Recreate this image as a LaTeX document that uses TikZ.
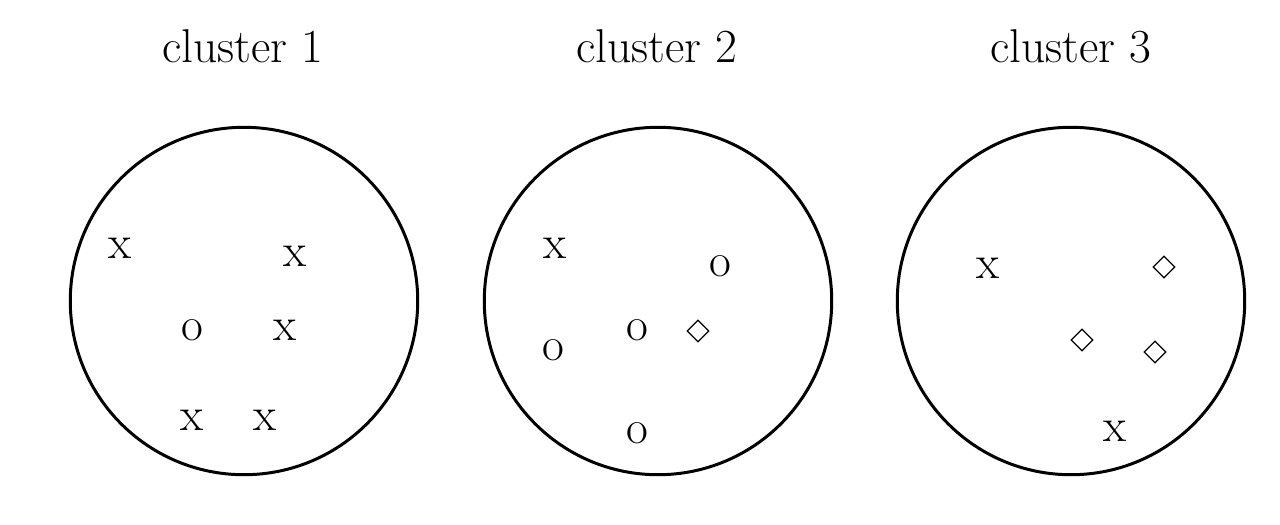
\documentclass[tikz,border=0pt]{standalone}
\usetikzlibrary{shapes.geometric}

\begin{document}
\begin{tikzpicture}[x=0.02cm, y=-0.02cm,
    cluster/.style={draw, circle, line width=1.7pt, minimum size=6.95cm, inner sep=0pt},
    title/.style={font=\fontsize{27}{32}\selectfont, anchor=base},
    pt/.style={font=\fontsize{27}{32}\selectfont, inner sep=0pt},
    dia/.style={draw, diamond, line width=0.7pt, minimum size=0.44cm, inner sep=0pt}]
    \useasboundingbox (0,0) rectangle (1280,524);

    % titles
    \node[title] (t1) at (243,62) {cluster 1};
    \node[title] (t2) at (657,62) {cluster 2};
    \node[title] (t3) at (1071,62) {cluster 3};

    % the three clusters
    \node[cluster] (c1) at (244,301) {};
    \node[cluster] (c2) at (658,301) {};
    \node[cluster] (c3) at (1071,301) {};

    % cluster 1: mostly x
    \node[pt] (a1) at (120,248) {x};
    \node[pt] (a2) at (295,256) {x};
    \node[pt] (a3) at (192,330) {o};
    \node[pt] (a4) at (285,330) {x};
    \node[pt] (a5) at (192,420) {x};
    \node[pt] (a6) at (265,420) {x};

    % cluster 2: mostly o
    \node[pt] (b1) at (555,248) {x};
    \node[pt] (b2) at (720,266) {o};
    \node[pt] (b3) at (637,330) {o};
    \node[dia] (b4) at (698,331) {};
    \node[pt] (b5) at (553,350) {o};
    \node[pt] (b6) at (637,433) {o};

    % cluster 3: mostly diamonds
    \node[pt] (d1) at (988,268) {x};
    \node[dia] (d2) at (1164,267) {};
    \node[dia] (d3) at (1082,340) {};
    \node[dia] (d4) at (1155,352) {};
    \node[pt] (d5) at (1115,431) {x};
\end{tikzpicture}
\end{document}
